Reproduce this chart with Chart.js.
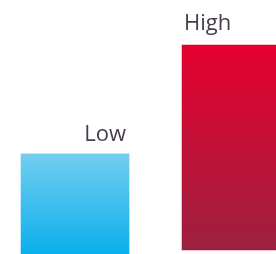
<!DOCTYPE html>
<html>
<head>
<meta charset="utf-8">
<script src="https://cdn.jsdelivr.net/npm/chart.js@4"></script>
<style>
  html, body { margin: 0; padding: 0; background: #fff; }
  #wrap { width: 276px; height: 254px; }
</style>
</head>
<body>
<div id="wrap"><canvas id="chart"></canvas></div>
<script>
// data
const categories = ['Low', 'High'];
const values = [38.5, 82];
const bases = [-2, 0];

const topColors = ['#74cdf1', '#e3002e'];
const bottomColors = ['#08afec', '#9c203f'];

function barGradient(ctx, i) {
    const chart = ctx.chart;
    const area = chart.chartArea;
    if (!area) return topColors[i];
    const y = chart.scales.y;
    const top = y.getPixelForValue(values[i]);
    const bottom = y.getPixelForValue(bases[i]);
    const g = chart.ctx.createLinearGradient(0, top, 0, bottom);
    g.addColorStop(0, topColors[i]);
    g.addColorStop(1, bottomColors[i]);
    return g;
}

// labels above the bars
const barLabels = {
    id: 'barLabels',
    afterDatasetsDraw(chart) {
        const ctx = chart.ctx;
        const meta = chart.getDatasetMeta(0);
        ctx.save();
        ctx.font = '22px "Open Sans", sans-serif';
        ctx.fillStyle = '#463c4e';
        ctx.textBaseline = 'alphabetic';
        meta.data.forEach((bar, i) => {
            const left = bar.x - bar.width / 2;
            const right = bar.x + bar.width / 2;
            if (i === 0) {
                ctx.textAlign = 'right';
                ctx.fillText(categories[i], right - 3, bar.y - 13);
            } else {
                ctx.textAlign = 'left';
                ctx.fillText(categories[i], left + 2, bar.y - 15);
            }
        });
        ctx.restore();
    }
};

new Chart(document.getElementById('chart'), {
    type: 'bar',
    data: {
        datasets: [{
            data: values.map((v, i) => ({ x: i, y: [bases[i], v] })),
            backgroundColor: ctx => barGradient(ctx, ctx.dataIndex),
            borderWidth: 0,
            barThickness: 108
        }]
    },
    options: {
        responsive: true,
        maintainAspectRatio: false,
        animation: false,
        layout: { padding: 0 },
        plugins: {
            legend: { display: false },
            tooltip: { enabled: false }
        },
        scales: {
            x: {
                type: 'linear',
                display: false,
                offset: false,
                min: -0.466,
                max: 1.248
            },
            y: {
                display: false,
                min: -1.6,
                max: 100
            }
        }
    },
    plugins: [barLabels]
});
</script>
</body>
</html>
